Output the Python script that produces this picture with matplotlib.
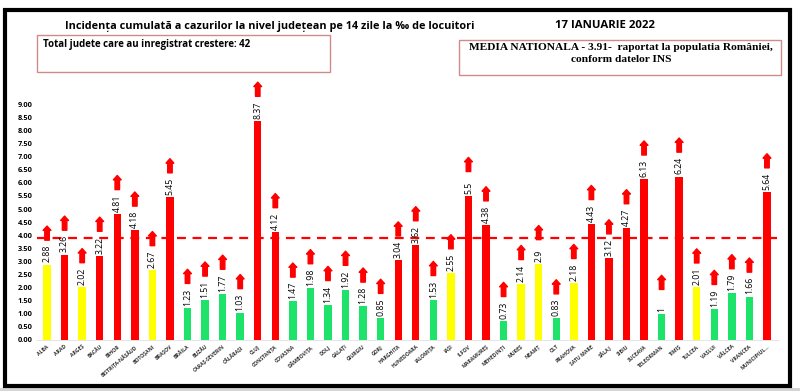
import matplotlib
matplotlib.use('Agg')
import matplotlib.pyplot as plt
from matplotlib.patches import Rectangle

judete = ['ALBA', 'ARAD', 'ARGEȘ', 'BACĂU', 'BIHOR', 'BISTRIȚA-NĂSĂUD', 'BOTOȘANI',
          'BRAȘOV', 'BRĂILA', 'BUZĂU', 'CARAȘ-SEVERIN', 'CĂLĂRAȘI', 'CLUJ', 'CONSTANȚA',
          'COVASNA', 'DÂMBOVIȚA', 'DOLJ', 'GALAȚI', 'GIURGIU', 'GORJ', 'HARGHITA',
          'HUNEDOARA', 'IALOMIȚA', 'IAȘI', 'ILFOV', 'MARAMUREȘ', 'MEHEDINȚI', 'MUREȘ',
          'NEAMȚ', 'OLT', 'PRAHOVA', 'SATU MARE', 'SĂLAJ', 'SIBIU', 'SUCEAVA',
          'TELEORMAN', 'TIMIȘ', 'TULCEA', 'VASLUI', 'VÂLCEA', 'VRANCEA', 'MUNICIPIUL...']
incidenta = [2.88, 3.26, 2.02, 3.22, 4.81, 4.18, 2.67, 5.45, 1.23, 1.51, 1.77, 1.03,
             8.37, 4.12, 1.47, 1.98, 1.34, 1.92, 1.28, 0.85, 3.04, 3.62, 1.53, 2.55,
             5.5, 4.38, 0.73, 2.14, 2.9, 0.83, 2.18, 4.43, 3.12, 4.27, 6.13, 1, 6.24,
             2.01, 1.19, 1.79, 1.66, 5.64]
etichete = ['2.88', '3.26', '2.02', '3.22', '4.81', '4.18', '2.67', '5.45', '1.23', '1.51',
            '1.77', '1.03', '8.37', '4.12', '1.47', '1.98', '1.34', '1.92', '1.28', '0.85',
            '3.04', '3.62', '1.53', '2.55', '5.5', '4.38', '0.73', '2.14', '2.9', '0.83',
            '2.18', '4.43', '3.12', '4.27', '6.13', '1', '6.24', '2.01', '1.19', '1.79',
            '1.66', '5.64']
media = 3.91
y_ticks = [0, 0.5, 1, 1.5, 2, 2.5, 3, 3.5, 4, 4.5, 5, 5.5, 6, 6.5, 7, 7.5, 8, 8.5, 9]

RED = '#ff0000'
YELLOW = '#ffff00'
GREEN = '#1ee36a'


def culoare(v):
    if v < 2:
        return GREEN
    if v < 3:
        return YELLOW
    return RED


fig = plt.figure(figsize=(8, 3.91), dpi=100)
W, H = 800, 391

# black frame round the whole chart
fig.patches.append(Rectangle((0, 0), 1, 3 / H, transform=fig.transFigure,
                             facecolor='#d4d4d4', edgecolor='none', zorder=0))
fig.patches.append(Rectangle((5 / W, 1 - 386 / H), 785 / W, 376 / H,
                             transform=fig.transFigure, facecolor='none',
                             edgecolor='black', lw=3, zorder=5))

ax = fig.add_axes([36.5 / W, 1 - 340 / H, 741 / W, 262 / H])
ax.set_facecolor('none')
x = list(range(len(judete)))
ax.bar(x, incidenta, width=0.42, color=[culoare(v) for v in incidenta], zorder=2)
ax.axhline(media, color=RED, ls=(0, (4, 3)), lw=1.6, zorder=1)

for i, v in enumerate(incidenta):
    ax.text(i, v + 0.08, etichete[i], rotation=90, ha='center', va='bottom',
            fontsize=6.3, family='Open Sans', color='black', zorder=3)
    ax.annotate('', xy=(i, v + 1.47), xytext=(i, v + 0.93),
                arrowprops=dict(arrowstyle='simple,head_length=0.35,head_width=0.62,tail_width=0.36',
                                color=RED, shrinkA=0, shrinkB=0, mutation_scale=9),
                zorder=3)

ax.set_xlim(-0.6, 41.6)
ax.set_ylim(0, 10)
ax.set_yticks(y_ticks)
ax.set_yticklabels([f'{t:.2f}' for t in y_ticks], fontsize=5.3, fontweight='bold',
                   family='Open Sans')
ax.set_xticks(x)
ax.set_xticklabels(judete, rotation=40, ha='right', rotation_mode='anchor',
                   fontsize=3.7, fontweight='bold', family='Open Sans', color='#333333')
ax.tick_params(length=0, pad=3)
for s in ['top', 'right', 'left']:
    ax.spines[s].set_visible(False)
ax.spines['bottom'].set_color('#e0e0e0')
ax.spines['bottom'].set_linewidth(0.6)

# titles
fig.text(270 / W, 1 - 26 / H,
         'Incidența cumulată a cazurilor la nivel județean pe 14 zile la ‰ de locuitori',
         ha='center', va='center', fontsize=7.8, fontweight='bold', family='Open Sans')
fig.text(605 / W, 1 - 25 / H, '17 IANUARIE 2022', ha='center', va='center',
         fontsize=8.2, fontweight='bold', family='Open Sans')

# boxes
fig.patches.append(Rectangle((37 / W, 1 - 72 / H), 293 / W, 37 / H,
                             transform=fig.transFigure, facecolor='white',
                             edgecolor='#d08a8a', lw=1, zorder=2))
fig.text(43 / W, 1 - 44 / H, 'Total judete care au inregistrat crestere: 42',
         ha='left', va='center', fontsize=7, fontweight='bold', family='Open Sans',
         zorder=3)
fig.patches.append(Rectangle((459 / W, 1 - 75 / H), 322 / W, 35 / H,
                             transform=fig.transFigure, facecolor='white',
                             edgecolor='#d08a8a', lw=1, zorder=2))
fig.text(621 / W, 1 - 47 / H, 'MEDIA NATIONALA - 3.91-  raportat la populatia României,',
         ha='center', va='center', fontsize=8.2, fontweight='bold',
         family='Liberation Serif', zorder=3)
fig.text(621 / W, 1 - 59 / H, 'conform datelor INS', ha='center', va='center',
         fontsize=8.2, fontweight='bold', family='Liberation Serif', zorder=3)

fig.savefig('out.png', dpi=100)
